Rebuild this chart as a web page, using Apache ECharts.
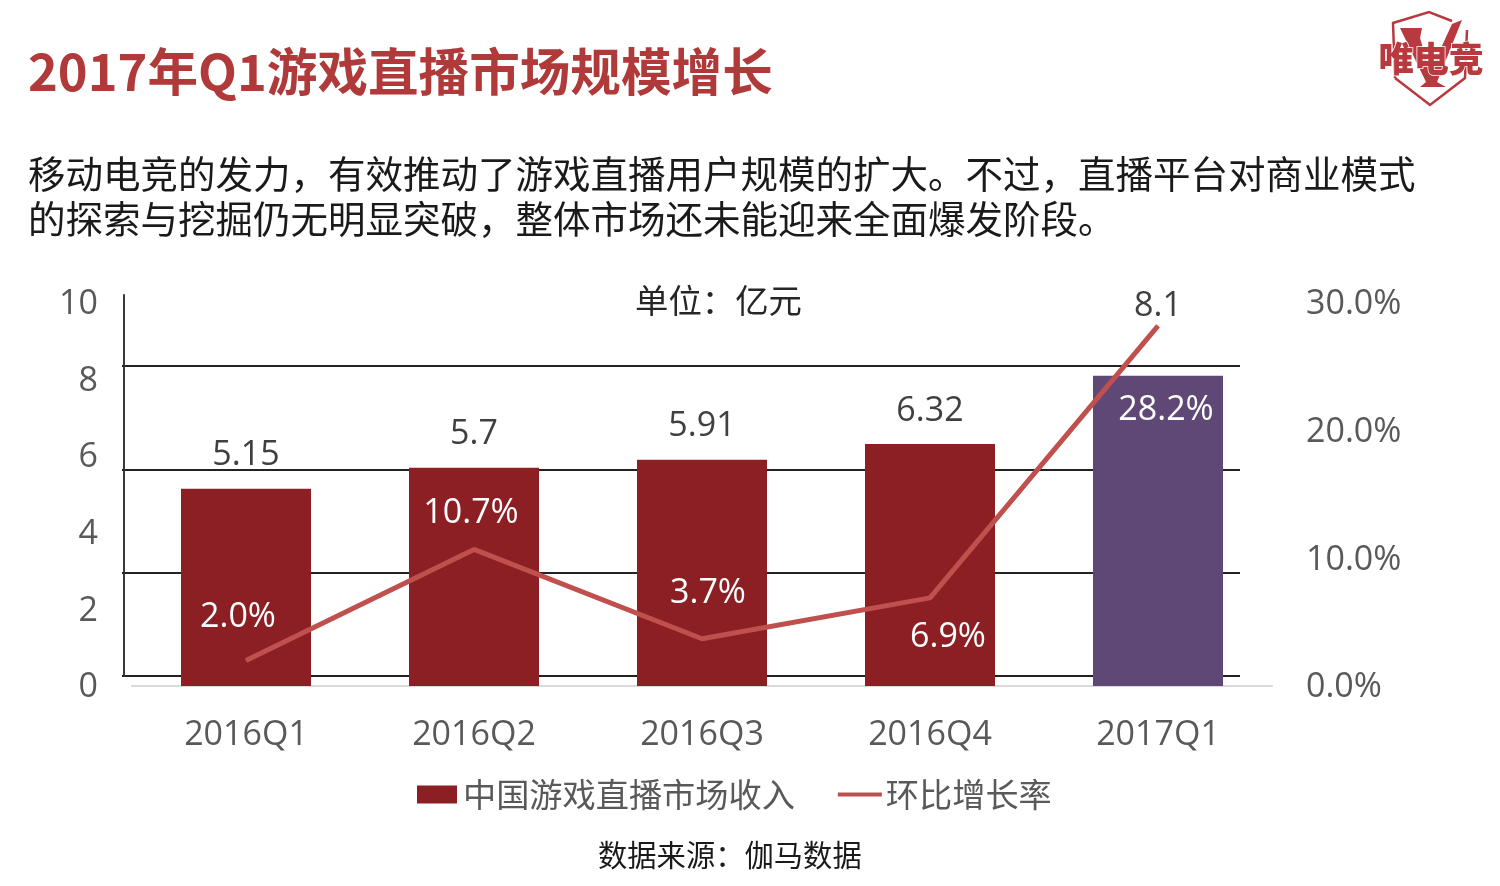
<!DOCTYPE html>
<html><head><meta charset="utf-8">
<style>html,body{margin:0;padding:0;background:#fff}#c{width:1500px;height:886px}</style>
<script src="https://cdn.jsdelivr.net/npm/echarts@6/dist/echarts.min.js"></script>
</head><body><div id="c"></div>
<script>
const categories = ['2016Q1','2016Q2','2016Q3','2016Q4','2017Q1'];
const revenue = [5.15,5.7,5.91,6.32,8.1];
const growth = [2.0,10.7,3.7,6.9,28.2];
const barColors = ['#8b1f24','#8b1f24','#8b1f24','#8b1f24','#5f4876'];
const growthLabelOffsets = [[-8,-43],[-3,-36],[6,-45],[18,39],[8,84]];
const revenueLabelOffsets = [[0,0],[0,0],[0,0],[0,0],[0,-36]];
const leftTicks = {min:0,max:10,interval:2};
const rightTicks = {min:0,max:30,interval:10};
const titleText = '2017年Q1游戏直播市场规模增长';
const subText = '移动电竞的发力\uFF0C有效推动了游戏直播用户规模的扩大。不过\uFF0C直播平台对商业模式\n的探索与挖掘仍无明显突破\uFF0C整体市场还未能迎来全面爆发阶段。';
const unitText = '单位\uFF1A亿元';
const sourceText = '数据来源\uFF1A伽马数据';
const logoText = '唯电竞';
const FONT = '"Noto Sans CJK SC","Noto Sans",sans-serif';
const NUM = '"Open Sans","Noto Sans CJK SC",sans-serif';
const chart = echarts.init(document.getElementById('c'),null,{renderer:'canvas'});
const logoRed = '#b8393e';
const tickRich = {t:{fontFamily:NUM,fontSize:34,color:'#595959',padding:[3,0,0,0]}};
chart.setOption({
  animation:false,
  backgroundColor:'#fff',
  grid:[
    {left:132,right:228,top:303,bottom:200,containLabel:false},
    {left:124,right:260,top:295,bottom:210}
  ],
  xAxis:[
    {type:'category',gridIndex:0,data:categories,
     axisLine:{lineStyle:{color:'#d9d9d9',width:2}},axisTick:{show:false},
     axisLabel:{fontFamily:NUM,fontSize:34,color:'#595959',margin:32}},
    {type:'value',gridIndex:1,show:false,min:0,max:1}
  ],
  yAxis:[
    {type:'value',gridIndex:0,...leftTicks,axisLine:{show:false},axisTick:{show:false},splitLine:{show:false},
     axisLabel:{margin:34,rich:tickRich,formatter:v=>'{t|'+v+'}'}},
    {type:'value',gridIndex:0,position:'right',...rightTicks,axisLine:{show:false},axisTick:{show:false},splitLine:{show:false},
     axisLabel:{margin:34,rich:tickRich,formatter:v=>'{t|'+v.toFixed(1)+'%}'}},
    {type:'value',gridIndex:1,min:0,max:3.69,
     axisLine:{show:true,lineStyle:{color:'#3a3a3a',width:2}},
     axisTick:{show:true,length:2,customValues:[0,1,2,3],lineStyle:{color:'#222',width:2}},
     axisLabel:{show:false},
     splitLine:{show:true,lineStyle:{color:'#222',width:2}}}
  ],
  legend:{left:412,top:773,itemWidth:44,itemHeight:18,itemGap:43,selectedMode:false,
    textStyle:{fontFamily:FONT,fontSize:33.2,color:'#595959',padding:[0,0,0,-1]},
    data:[
      {name:'中国游戏直播市场收入',icon:'path://M0 0H40V18H0Z',itemStyle:{color:'#8b1f24'}},
      {name:'环比增长率',icon:'path://M0 0H44V4H0Z',itemStyle:{color:'#c0504d',opacity:1}}
    ]},
  series:[
    {name:'中国游戏直播市场收入',type:'bar',xAxisIndex:0,yAxisIndex:0,barWidth:130,z:3,
     data:revenue.map((v,i)=>({value:v,itemStyle:{color:barColors[i]},
       label:{offset:revenueLabelOffsets[i]}})),
     label:{show:true,position:'top',distance:16,fontFamily:NUM,fontSize:34,color:'#404040',
       formatter:p=>String(p.value)}},
    {name:'环比增长率',type:'line',xAxisIndex:0,yAxisIndex:1,z:4,showSymbol:true,symbol:'circle',symbolSize:1,
     lineStyle:{color:'#c0504d',width:5},itemStyle:{color:'#c0504d'},
     data:growth.map((v,i)=>({value:v,
       label:{show:true,position:'inside',offset:growthLabelOffsets[i],fontFamily:NUM,fontSize:34,color:'#fff',
         formatter:p=>p.value.toFixed(1)+'%'}}))}
  ],
  graphic:[
    {type:'text',left:28,top:46,style:{text:titleText,fontFamily:FONT,fontWeight:'bold',fontSize:50.6,fill:'#b03a3a'}},
    {type:'text',left:28,top:151,style:{text:subText,fontFamily:FONT,fontSize:37.5,lineHeight:45,fill:'#1a1a1a'}},
    {type:'text',left:635,top:284,style:{text:unitText,fontFamily:FONT,fontSize:33.4,fill:'#262626'}},
    {type:'text',left:598,top:840,style:{text:sourceText,fontFamily:FONT,fontSize:29.3,fill:'#1a1a1a'}},
    {type:'polyline',shape:{points:[[1395,78],[1393,23],[1429,12],[1452,21]]},style:{fill:'none',stroke:logoRed,lineWidth:2.5}},
    {type:'polyline',shape:{points:[[1395,78],[1430,105],[1465,78],[1467,30]]},style:{fill:'none',stroke:logoRed,lineWidth:2.5}},
    {type:'polygon',shape:{points:[[1400,28],[1422,28],[1420,38],[1430,72],[1452,24],[1462,20],[1437,82],[1446,87],[1420,87],[1426,82]]},style:{fill:logoRed}},
    {type:'text',left:1378,top:40,style:{text:logoText,fontFamily:FONT,fontWeight:'900',fontSize:35,fill:logoRed,stroke:'#fff',lineWidth:1.5}}
  ]
});
</script></body></html>
